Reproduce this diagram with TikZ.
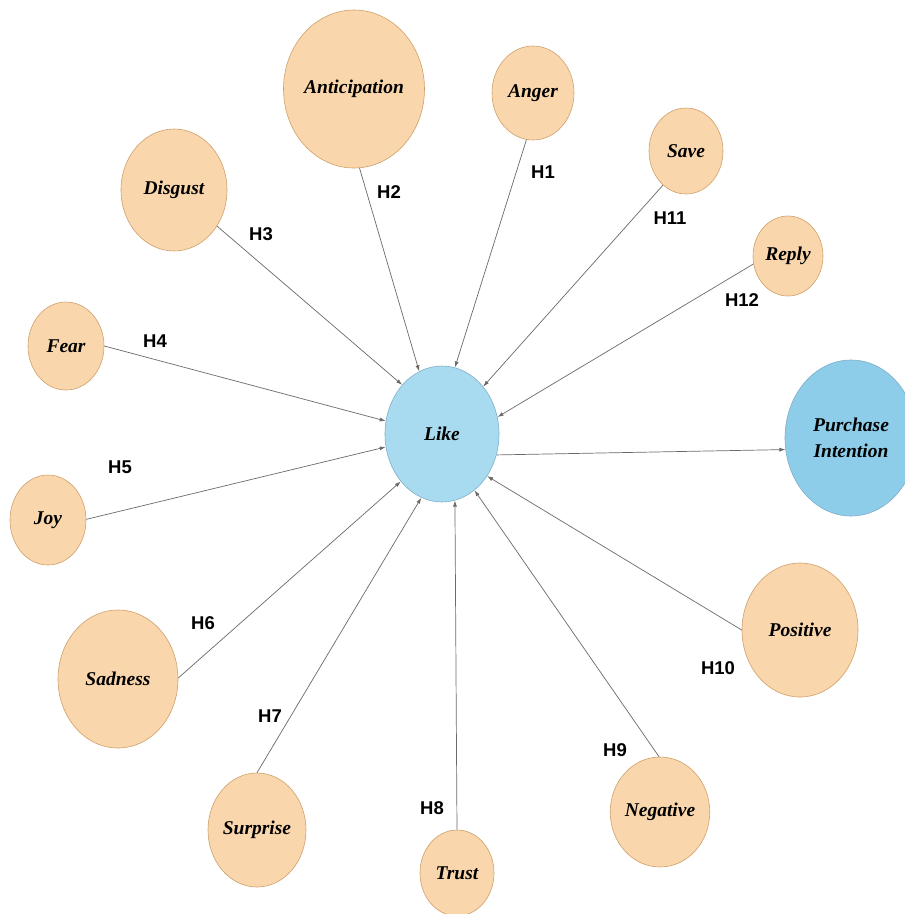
\documentclass[tikz,border=0pt]{standalone}
\usepackage{fontspec}
\setmainfont{Liberation Serif}
\setsansfont{Liberation Sans}
\usetikzlibrary{shapes.geometric,arrows.meta}
\definecolor{peach}{HTML}{F9D6AC}
\definecolor{peachline}{HTML}{CFA06A}
\definecolor{likeblue}{HTML}{A8DAF0}
\definecolor{piblue}{HTML}{8DCDEA}
\definecolor{blueline}{HTML}{7FAFC8}
\definecolor{linkgray}{HTML}{6A6A6A}
\tikzset{
  emo/.style={ellipse, draw=peachline, fill=peach, line width=0.6pt, inner sep=0pt,
    font=\fontsize{19.5}{24}\selectfont\bfseries\itshape},
  bluenode/.style={ellipse, draw=blueline, line width=0.6pt, inner sep=0pt, align=center,
    font=\fontsize{19.5}{26}\selectfont\bfseries\itshape},
  hyp/.style={font=\fontsize{18.5}{20}\selectfont\sffamily\bfseries, inner sep=0pt},
  link/.style={draw=linkgray, line width=0.7pt, -{Latex[length=6pt,width=4pt]}}
}
\begin{document}
\begin{tikzpicture}[x=1pt,y=-1pt]
\useasboundingbox (0,0) rectangle (905,914);
\clip (0,0) rectangle (905,914);
\fill[white] (0,0) rectangle (905,914);
% central nodes
\node[bluenode, fill=likeblue, minimum width=114pt, minimum height=136pt] (like) at (442,434) {Like};
\node[bluenode, fill=piblue, minimum width=132pt, minimum height=156pt] (pi) at (851,438) {Purchase\\Intention};
% outer nodes
\node[emo, minimum width=136pt, minimum height=158pt] (ant) at (354,89) {Anticipation};
\node[emo, minimum width=82pt, minimum height=94pt] (ang) at (533,93) {Anger};
\node[emo, minimum width=74pt, minimum height=86pt] (save) at (686,151) {Save};
\node[emo, minimum width=70pt, minimum height=80pt] (reply) at (788,256) {Reply};
\node[emo, minimum width=106pt, minimum height=122pt] (disg) at (174,190) {Disgust};
\node[emo, minimum width=76pt, minimum height=88pt] (fear) at (66,346) {Fear};
\node[emo, minimum width=76pt, minimum height=90pt] (joy) at (48,520) {Joy};
\node[emo, minimum width=120pt, minimum height=138pt] (sad) at (118,679) {Sadness};
\node[emo, minimum width=98pt, minimum height=114pt] (surp) at (257,830) {Surprise};
\node[emo, minimum width=74pt, minimum height=86pt] (trust) at (457,873) {Trust};
\node[emo, minimum width=92pt, minimum height=110pt] (neg) at (660,812) {Negative};
\node[emo, minimum width=116pt, minimum height=134pt] (pos) at (800,630) {Positive};
% connectors
\draw[link] (ant.274) -- (like.110);
\draw[link] (ang.262) -- (like.79);
\draw[link] (save.236) -- (like.49);
\draw[link] (reply.193) -- (like.17);
\draw[link] (disg.320) -- (like.129);
\draw[link] (fear.0) -- (like.167);
\draw[link] (joy.1) -- (like.193);
\draw[link] (sad.1) -- (like.229);
\draw[link] (surp.90) -- (like.252);
\draw[link] (trust.90) -- (like.281);
\draw[link] (neg.91) -- (like.300);
\draw[link] (pos.180) -- (like.317);
\draw[link] (like.339) -- (pi.190);
% labels
\node[hyp] (h1) at (543,172) {H1};
\node[hyp] (h2) at (389,192) {H2};
\node[hyp] (h3) at (261,234) {H3};
\node[hyp] (h4) at (155,341) {H4};
\node[hyp] (h5) at (120,467) {H5};
\node[hyp] (h6) at (203,623) {H6};
\node[hyp] (h7) at (270,716) {H7};
\node[hyp] (h8) at (432,808) {H8};
\node[hyp] (h9) at (615,750) {H9};
\node[hyp] (h10) at (718,668) {H10};
\node[hyp] (h11) at (670,218) {H11};
\node[hyp] (h12) at (742,300) {H12};
\end{tikzpicture}
\end{document}
